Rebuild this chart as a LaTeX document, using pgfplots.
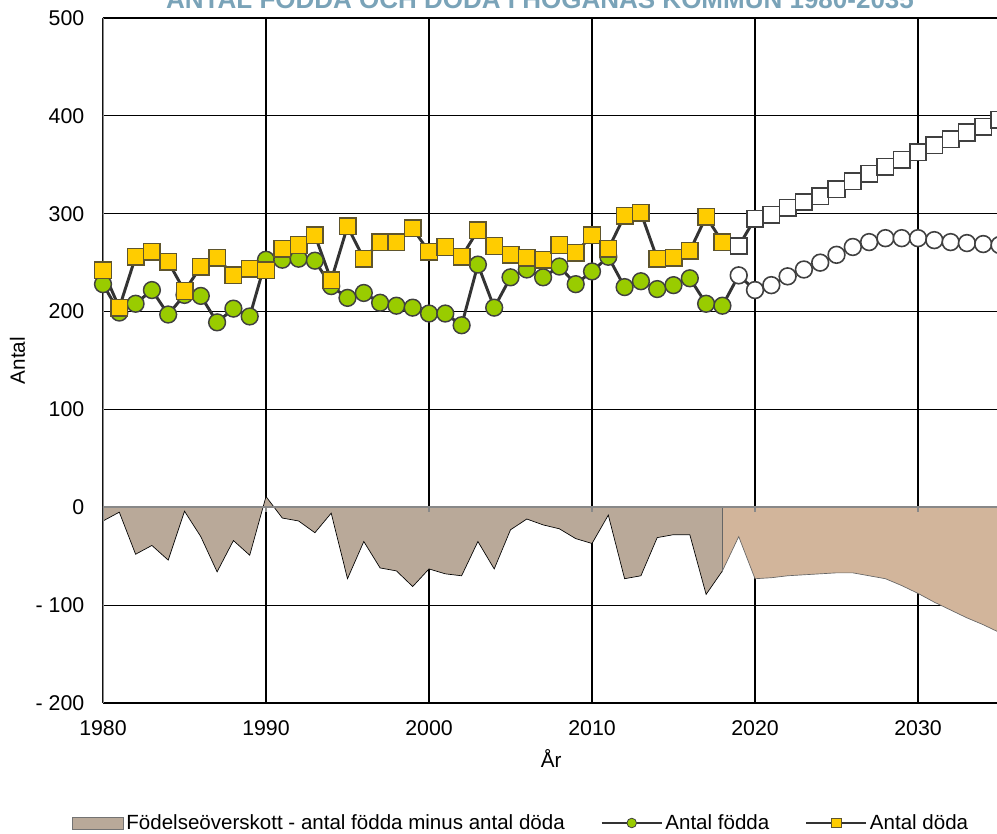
\documentclass[border=0pt]{standalone}
\usepackage{fontspec}
\setmainfont{Liberation Sans}
\usepackage{pgfplots}
\usepackage{pgfplotstable}
\pgfplotsset{compat=1.18}

\definecolor{areaH}{RGB}{185,169,153}
\definecolor{areaF}{RGB}{210,181,155}
\definecolor{fgreen}{RGB}{153,204,0}
\definecolor{dyellow}{RGB}{255,204,0}
\definecolor{lineC}{RGB}{51,51,51}
\definecolor{sqedge}{RGB}{95,85,45}
\definecolor{axgray}{RGB}{136,136,136}
\definecolor{titleblue}{RGB}{122,163,184}

% year, births (fodda), deaths (doda), surplus = fodda - doda
\pgfplotstableread{
year fodda doda diff
1980 228 242 -14
1981 199 204 -5
1982 208 256 -48
1983 222 261 -39
1984 197 251 -54
1985 217 221 -4
1986 216 246 -30
1987 189 255 -66
1988 203 237 -34
1989 195 244 -49
1990 253 242 11
1991 253 264 -11
1992 254 268 -14
1993 252 278 -26
1994 226 232 -6
1995 214 287 -73
1996 219 254 -35
1997 209 271 -62
1998 206 271 -65
1999 204 285 -81
2000 198 261 -63
2001 198 266 -68
2002 186 256 -70
2003 248 283 -35
2004 204 267 -63
2005 235 258 -23
2006 243 255 -12
2007 235 253 -18
2008 246 268 -22
2009 228 260 -32
2010 241 278 -37
2011 256 264 -8
2012 225 298 -73
2013 231 301 -70
2014 223 254 -31
2015 227 255 -28
2016 234 262 -28
2017 208 297 -89
2018 206 271 -65
2019 237 267 -30
2020 222 295 -73
2021 227 299 -72
2022 236 306 -70
2023 243 312 -69
2024 250 318 -68
2025 258 325 -67
2026 266 333 -67
2027 271 341 -70
2028 275 348 -73
2029 275 355 -80
2030 275 363 -88
2031 273 370 -97
2032 271 376 -105
2033 270 383 -113
2034 269 389 -120
2035 268 396 -128
}\data

\begin{document}
\begin{tikzpicture}
\begin{axis}[
    scale only axis,
    width=672.4pt, height=513.75pt,
    xmin=1980, xmax=2035,
    ymin=-200, ymax=500,
    xtick={1980,1990,2000,2010,2020,2030},
    xticklabels={1980,1990,2000,2010,2020,2030},
    ytick={-200,-100,0,100,200,300,400,500},
    yticklabels={- 200,- 100,0,100,200,300,400,500},
    tick style={draw=none},
    axis line style={draw=none},
    grid=major,
    major grid style={black, line width=0.8pt},
    ticklabel style={font=\fontsize{16}{16}\selectfont},
    yticklabel style={xshift=-10.5pt},
    xticklabel style={yshift=-9.5pt},
    xlabel={År},
    ylabel={Antal},
    label style={font=\fontsize{15.5}{16}\selectfont},
    xlabel style={at={(axis description cs:0.5,-0.0949)}, anchor=base},
    ylabel style={at={(axis description cs:-0.0954,0.5)}, anchor=center},
    title={ANTAL FÖDDA OCH DÖDA I HÖGANÄS KOMMUN 1980-2035},
    title style={at={(axis description cs:0.4875,1.0015)}, anchor=base,
        font=\fontsize{19.5}{20}\selectfont\bfseries, text=titleblue},
    legend columns=3,
    legend style={at={(axis description cs:-0.0346,-0.1752)}, anchor=west,
        draw=none, fill=none, inner sep=0pt, outer sep=0pt,
        font=\fontsize{15.4}{16}\selectfont,
        nodes={inner sep=0pt},
        /tikz/every odd column/.append style={column sep=2pt},
        /tikz/every even column/.append style={column sep=27pt}},
]

% surplus areas: history and forecast
\addplot[forget plot, fill=areaH, draw=black, line width=0.5pt,
    restrict x to domain=1980:2018] table[x=year, y=diff] {\data} \closedcycle;
\addplot[forget plot, fill=areaF, draw=black!60, line width=0.5pt,
    restrict x to domain=2018:2035] table[x=year, y=diff] {\data} \closedcycle;

% gray axis lines and ticks
\draw[axgray, line width=1.4pt] (axis cs:1980,-200) -- (axis cs:1980,500);
\draw[axgray, line width=1.4pt] (axis cs:1980,0) -- (axis cs:2035,0);
\pgfplotsinvokeforeach{-200,-100,0,100,200,300,400,500}{
    \draw[axgray, line width=1.4pt] ([xshift=-3.75pt]axis cs:1980,#1) -- (axis cs:1980,#1);
}
\pgfplotsinvokeforeach{1990,2000,2010,2020,2030}{
    \draw[axgray, line width=1.4pt] (axis cs:#1,0) -- ([yshift=-3.75pt]axis cs:#1,0);
}

% births
\addplot[forget plot, lineC, line width=2.2pt, no markers] table[x=year, y=fodda] {\data};
\addplot[forget plot, only marks, mark=*, mark size=6.3pt,
    mark options={fill=fgreen, draw=black!75, line width=1.1pt},
    restrict x to domain=1980:2018] table[x=year, y=fodda] {\data};
\addplot[forget plot, only marks, mark=*, mark size=6.3pt,
    mark options={fill=white, draw=black!75, line width=1.2pt},
    restrict x to domain=2019:2035] table[x=year, y=fodda] {\data};

% deaths
\addplot[forget plot, lineC, line width=2.2pt, no markers] table[x=year, y=doda] {\data};
\addplot[forget plot, only marks, mark=square*, mark size=6.2pt,
    mark options={fill=dyellow, draw=sqedge, line width=1.1pt},
    restrict x to domain=1980:2018] table[x=year, y=doda] {\data};
\addplot[forget plot, only marks, mark=square*, mark size=6.2pt,
    mark options={fill=white, draw=black!75, line width=1.2pt},
    restrict x to domain=2019:2035] table[x=year, y=doda] {\data};

% legend
\addlegendimage{legend image code/.code={
    \draw[fill=areaH, draw=black!55, line width=0.6pt] (0pt,-4.5pt) rectangle (38.25pt,4.5pt);}}
\addlegendentry{Födelseöverskott - antal födda minus antal döda}
\addlegendimage{legend image code/.code={
    \draw[lineC, line width=1.5pt] (0pt,0pt) -- (45pt,0pt);
    \draw[fill=fgreen, draw=black!75, line width=0.6pt] (22.5pt,0pt) circle (3.6pt);}}
\addlegendentry{Antal födda}
\addlegendimage{legend image code/.code={
    \draw[lineC, line width=1.5pt] (0pt,0pt) -- (45pt,0pt);
    \draw[fill=dyellow, draw=sqedge, line width=0.6pt] (19pt,-3.5pt) rectangle (26pt,3.5pt);}}
\addlegendentry{Antal döda}
\end{axis}
\pgfresetboundingbox
\useasboundingbox (-77.25pt,-98.25pt) rectangle (670.5pt,527.25pt);
\end{tikzpicture}
\end{document}
